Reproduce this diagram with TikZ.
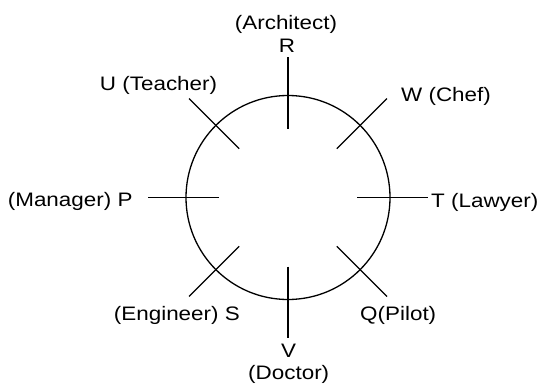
\documentclass[tikz,border=0pt]{standalone}
\usepackage{fontspec}
\setmainfont{Liberation Sans}[FakeStretch=1.15]
\usetikzlibrary{calc}
\tikzset{
  lbl/.style={inner sep=0pt, font=\fontsize{19.5pt}{23pt}\selectfont},
  spoke/.style={line width=1.3pt, line cap=butt},
  ring/.style={circle, draw, line width=1.3pt, minimum size=204pt, inner sep=0pt}
}
\begin{document}
\begin{tikzpicture}[x=1pt,y=-1pt]
\useasboundingbox (0,0) rectangle (540,385);
\node[ring] (c) at (288,197.5) {};
\foreach \n/\a in {R/90, W/45, T/0, Q/-45, V/-90, S/-135, P/180, U/135} {
  \coordinate (\n i) at ($(c.center)+(\a:69pt)$);
  \coordinate (\n o) at ($(c.center)+(\a:140pt)$);
}
\foreach \n in {R,W,T,Q,V,S,P,U} {
  \draw[spoke] (\n i) -- (\n o);
}
\node[lbl, anchor=base] (arch) at (286,29.3) {(Architect)};
\node[lbl, anchor=base] (r) at (287,52.7) {R};
\node[lbl, anchor=base east] (u) at (217.3,90.5) {U (Teacher)};
\node[lbl, anchor=base west] (w) at (401,102) {W (Chef)};
\node[lbl, anchor=base east] (p) at (132.7,206.7) {(Manager) P};
\node[lbl, anchor=base west] (t) at (431,207) {T (Lawyer)};
\node[lbl, anchor=base east] (s) at (240,320.7) {(Engineer) S};
\node[lbl, anchor=base west] (q) at (360,320.7) {Q(Pilot)};
\node[lbl, anchor=base] (v) at (288.5,357.7) {V};
\node[lbl, anchor=base] (doc) at (288.7,379.3) {(Doctor)};
\end{tikzpicture}
\end{document}
